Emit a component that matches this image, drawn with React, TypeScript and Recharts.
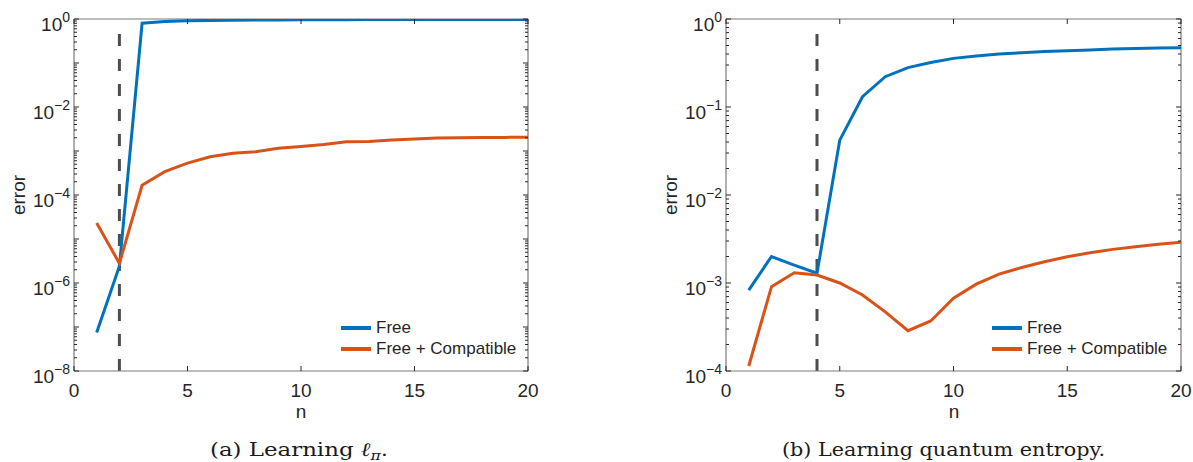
import React from 'react';
import { LineChart, Line, XAxis, YAxis, ReferenceLine, Legend } from 'recharts';

// n = 1..20 on both panels
const nValues = [1, 2, 3, 4, 5, 6, 7, 8, 9, 10, 11, 12, 13, 14, 15, 16, 17, 18, 19, 20];

// (a) Learning l_pi
const freeA = [7.5e-8, 2.4e-6, 0.8, 0.88, 0.91, 0.93, 0.94, 0.95, 0.955, 0.96, 0.962, 0.965, 0.968, 0.97, 0.972, 0.974, 0.976, 0.977, 0.978, 0.98];
const compatA = [2.3e-5, 2.8e-6, 1.66e-4, 3.4e-4, 5.3e-4, 7.4e-4, 8.9e-4, 9.6e-4, 1.15e-3, 1.26e-3, 1.4e-3, 1.63e-3, 1.65e-3, 1.78e-3, 1.87e-3, 1.98e-3, 2.0e-3, 2.02e-3, 2.04e-3, 2.05e-3];

// (b) Learning quantum entropy
const freeB = [8.3e-4, 2.0e-3, 1.6e-3, 1.29e-3, 0.042, 0.131, 0.221, 0.28, 0.32, 0.357, 0.38, 0.4, 0.414, 0.426, 0.437, 0.445, 0.455, 0.462, 0.468, 0.472];
const compatB = [1.14e-4, 9.1e-4, 1.31e-3, 1.23e-3, 1.0e-3, 7.3e-4, 4.7e-4, 2.87e-4, 3.7e-4, 6.7e-4, 9.7e-4, 1.26e-3, 1.5e-3, 1.74e-3, 1.99e-3, 2.21e-3, 2.41e-3, 2.58e-3, 2.75e-3, 2.9e-3];

const xTicks = [0, 5, 10, 15, 20];
const labeledExpA = [0, -2, -4, -6, -8];
const labeledExpB = [0, -1, -2, -3, -4];
const seriesNames = ['Free', 'Free + Compatible'];

const BLUE = '#0072BD';
const ORANGE = '#D95319';
const TEXT = '#262626';
const AXIS = '#7a7a7a';
const FONT = '"Liberation Sans", Arial, Helvetica, sans-serif';

const PLOT_TOP = 19;
const PLOT_BOTTOM = 371;
const CHART_H = 462;

// decade + minor ticks for a log axis
const logTicks = (minExp: number, maxExp: number) => {
  const out: number[] = [];
  for (let e = minExp; e < maxExp; e++) {
    for (let m = 1; m < 10; m++) out.push(m * Math.pow(10, e));
  }
  out.push(Math.pow(10, maxExp));
  return out;
};

const YTick = (props: any) => {
  const { x, y, payload, plotW, labeled } = props;
  const lg = Math.log10(payload.value);
  const e = Math.round(lg);
  const decade = Math.abs(lg - e) < 1e-6;
  const len = decade ? 5 : 3;
  return (
    <g>
      <line x1={x} x2={x + len} y1={y} y2={y} stroke={TEXT} strokeWidth={1} />
      <line x1={x + plotW} x2={x + plotW - len} y1={y} y2={y} stroke={TEXT} strokeWidth={1} />
      {decade && labeled.includes(e) && (
        <text x={x - 4} y={y + 11.5} textAnchor="end" fill={TEXT} fontFamily={FONT} fontSize={19}>
          <tspan>10</tspan>
          <tspan dy={-9} fontSize={14}>{e < 0 ? '\u2212' + Math.abs(e) : String(e)}</tspan>
        </text>
      )}
    </g>
  );
};

const XTick = (props: any) => {
  const { x, y, payload, plotH } = props;
  return (
    <g>
      <line x1={x} x2={x} y1={y} y2={y - 5} stroke={TEXT} strokeWidth={1} />
      <line x1={x} x2={x} y1={y - plotH} y2={y - plotH + 5} stroke={TEXT} strokeWidth={1} />
      <text x={x} y={y + 26} textAnchor="middle" fill={TEXT} fontFamily={FONT} fontSize={19}>
        {payload.value}
      </text>
    </g>
  );
};

const LegendBox = ({ payload }: any) => (
  <div style={{ fontFamily: FONT, fontSize: 17, color: TEXT }}>
    {(payload || []).map((p: any) => (
      <div key={p.value} style={{ display: 'flex', alignItems: 'center', height: 21, whiteSpace: 'nowrap' }}>
        <svg width={30} height={4} style={{ display: 'block' }}>
          <line x1={0} x2={30} y1={2} y2={2} stroke={p.color} strokeWidth={4} />
        </svg>
        <span style={{ marginLeft: 5 }}>{p.value}</span>
      </div>
    ))}
  </div>
);

interface PanelProps {
  free: number[];
  compat: number[];
  minExp: number;
  labeled: number[];
  dashX: number;
  dashTop: number;
  offsetX: number;
  chartW: number;
  plotLeft: number;
  plotRight: number;
  legendLeft: number;
}

const Panel: React.FC<PanelProps> = (p) => {
  const data = nValues.map((n, i) => ({ n, free: p.free[i], compat: p.compat[i] }));
  const yDomain = [Math.pow(10, p.minExp), 1];
  const plotW = p.plotRight - p.plotLeft;
  const plotH = PLOT_BOTTOM - PLOT_TOP;
  const yAxisW = 40;
  const xAxisH = 30;
  return (
    <div style={{ position: 'absolute', left: p.offsetX, top: 0 }}>
      <LineChart
        width={p.chartW}
        height={CHART_H}
        data={data}
        margin={{
          top: PLOT_TOP,
          left: p.plotLeft - yAxisW,
          right: p.chartW - p.plotRight,
          bottom: CHART_H - PLOT_BOTTOM - xAxisH,
        }}
      >
        <XAxis
          dataKey="n"
          type="number"
          domain={[0, 20]}
          ticks={xTicks}
          interval={0}
          allowDataOverflow
          height={xAxisH}
          tickSize={0}
          tickMargin={0}
          axisLine={{ stroke: AXIS, strokeWidth: 1.2 }}
          tickLine={false}
          tick={(tp: any) => <XTick {...tp} plotH={plotH} />}
        />
        <YAxis
          type="number"
          scale="log"
          domain={yDomain}
          ticks={logTicks(p.minExp, 0)}
          interval={0}
          allowDataOverflow
          width={yAxisW}
          tickSize={0}
          tickMargin={0}
          axisLine={{ stroke: AXIS, strokeWidth: 1.2 }}
          tickLine={false}
          tick={(tp: any) => <YTick {...tp} plotW={plotW} labeled={p.labeled} />}
        />
        <ReferenceLine y={1} stroke={AXIS} strokeWidth={1.2} />
        <ReferenceLine x={20} stroke={AXIS} strokeWidth={1.2} />
        <ReferenceLine
          segment={[{ x: p.dashX, y: yDomain[0] }, { x: p.dashX, y: p.dashTop }]}
          stroke="#4d4d4d"
          strokeWidth={3}
          strokeDasharray="12 13"
        />
        <Line dataKey="free" name={seriesNames[0]} stroke={BLUE} strokeWidth={3} dot={false} isAnimationActive={false} />
        <Line dataKey="compat" name={seriesNames[1]} stroke={ORANGE} strokeWidth={3} dot={false} isAnimationActive={false} />
        <Legend
          layout="vertical"
          align="center"
          verticalAlign="middle"
          wrapperStyle={{ left: p.legendLeft, top: 317, width: 200 }}
          content={<LegendBox />}
        />
      </LineChart>
    </div>
  );
};

export default function App() {
  return (
    <div style={{ position: 'fixed', left: 0, top: 0, width: 1193, height: 462, background: '#fff', overflow: 'hidden' }}>
      <Panel
        free={freeA}
        compat={compatA}
        minExp={-8}
        labeled={labeledExpA}
        dashX={2}
        dashTop={0.53}
        offsetX={0}
        chartW={600}
        plotLeft={74}
        plotRight={528}
        legendLeft={341}
      />
      <Panel
        free={freeB}
        compat={compatB}
        minExp={-4}
        labeled={labeledExpB}
        dashX={4}
        dashTop={0.72}
        offsetX={600}
        chartW={593}
        plotLeft={126}
        plotRight={581}
        legendLeft={392}
      />
      <svg width={1193} height={462} style={{ position: 'absolute', left: 0, top: 0, pointerEvents: 'none' }}>
        <g fill={TEXT} fontFamily={FONT} fontSize={19}>
          <text transform="translate(25,195) rotate(-90)" textAnchor="middle">error</text>
          <text transform="translate(677,195) rotate(-90)" textAnchor="middle">error</text>
          <text x={301} y={418} textAnchor="middle">n</text>
          <text x={954} y={418} textAnchor="middle">n</text>
        </g>
        <g fill="#1a1a1a" fontFamily='"DejaVu Serif", "Liberation Serif", serif' fontSize={19}>
          <text x={210} y={456} textLength={178} lengthAdjust="spacingAndGlyphs">
            (a) Learning <tspan fontStyle="italic">ℓ</tspan>
            <tspan dy={4} fontSize={13} fontStyle="italic">π</tspan>
            <tspan dy={-4}>.</tspan>
          </text>
          <text x={782} y={456} textLength={323} lengthAdjust="spacingAndGlyphs">
            (b) Learning quantum entropy.
          </text>
        </g>
      </svg>
    </div>
  );
}
